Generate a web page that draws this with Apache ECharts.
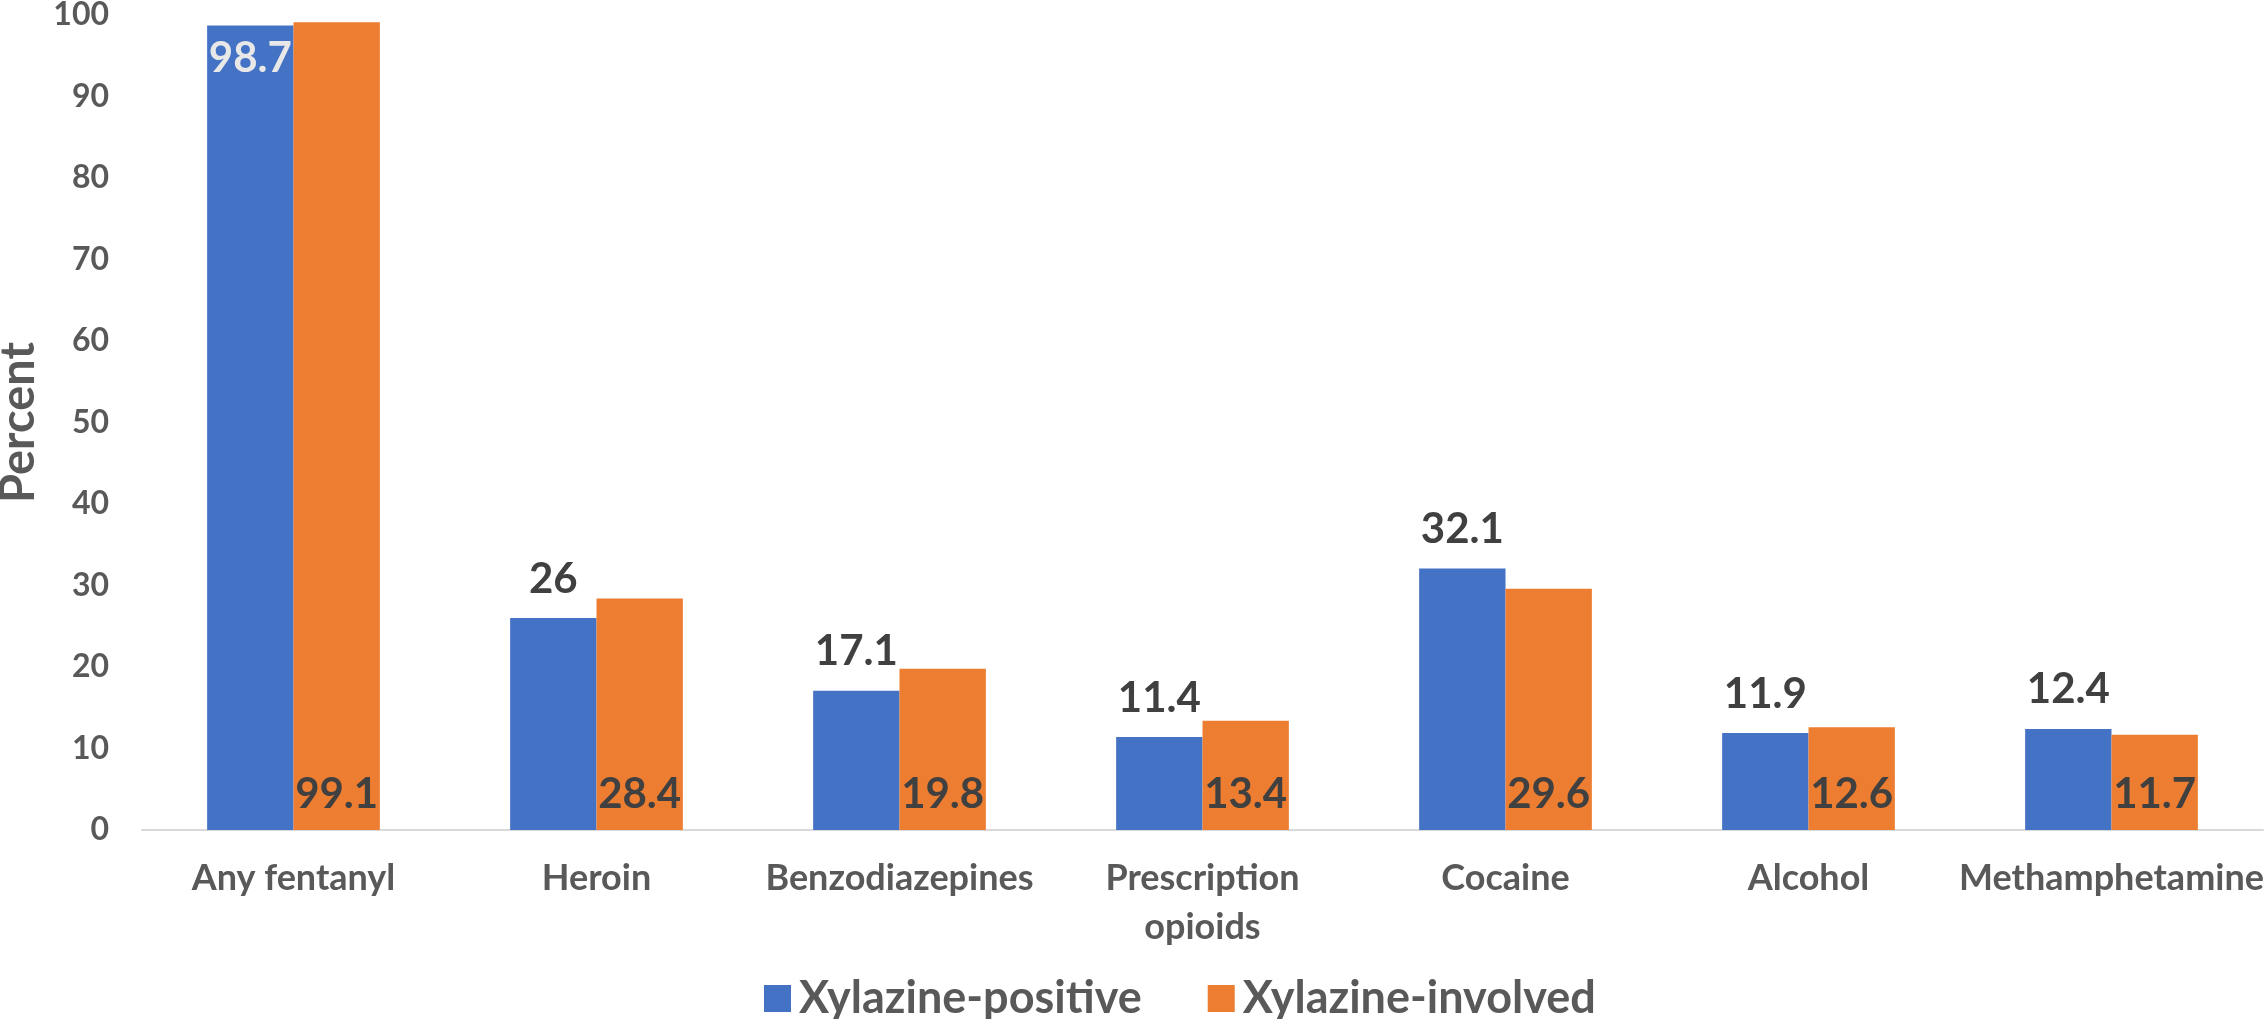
<!DOCTYPE html>
<html>
<head>
<meta charset="utf-8">
<script src="https://cdn.jsdelivr.net/npm/echarts@6/dist/echarts.min.js"></script>
<style>
	html, body { margin: 0; padding: 0; background: #fff; }
	#main { width: 2264px; height: 1019px; }
</style>
</head>
<body>
<div id="main"></div>
<script>
var categories = ['Any fentanyl', 'Heroin', 'Benzodiazepines', 'Prescription\nopioids', 'Cocaine', 'Alcohol', 'Methamphetamine']
var positive = [98.7, 26, 17.1, 11.4, 32.1, 11.9, 12.4]
var involved = [99.1, 28.4, 19.8, 13.4, 29.6, 12.6, 11.7]
var yTicks = [0, 100, 10] // min, max, step

var font = 'Lato'
var textGrey = '#595959'
var labelGrey = '#404040'

var myChart = echarts.init(document.getElementById('main'))

// first blue bar gets its label inside, in light grey
var positiveData = positive.map(function (v, i) {
	if (i === 0) {
		return { value: v, label: { position: 'insideTop', distance: 12, color: '#e8e8e8' } }
	}
	return v
})

var option = {
	animation: false,
	textStyle: { fontFamily: font },
	grid: { left: 142, right: 1, top: 15, bottom: 189, containLabel: false, outerBoundsMode: 'none' },
	legend: {
		data: ['Xylazine-positive', 'Xylazine-involved'],
		left: 759,
		top: 971,
		icon: 'rect',
		itemWidth: 27,
		itemHeight: 27,
		itemGap: 66,
		textStyle: { fontFamily: font, fontSize: 45, fontWeight: 'bold', color: textGrey, padding: [0, 0, 0, 3] }
	},
	xAxis: {
		type: 'category',
		data: categories,
		axisTick: { show: false },
		axisLine: { lineStyle: { color: '#d9d9d9', width: 2 } },
		axisLabel: {
			interval: 0,
			margin: 24,
			fontFamily: font,
			fontSize: 36,
			fontWeight: 'bold',
			color: textGrey,
			lineHeight: 49
		}
	},
	yAxis: {
		type: 'value',
		min: yTicks[0],
		max: yTicks[1],
		interval: yTicks[2],
		splitLine: { show: false },
		axisLine: { show: false },
		axisTick: { show: false },
		axisLabel: { margin: 33, fontFamily: font, fontSize: 32, fontWeight: 'bold', color: textGrey },
		name: 'Percent',
		nameLocation: 'middle',
		nameRotate: 90,
		nameGap: 100,
		nameTextStyle: { fontFamily: font, fontSize: 47, fontWeight: 'bold', color: textGrey }
	},
	series: [
		{
			name: 'Xylazine-positive',
			type: 'bar',
			data: positiveData,
			barGap: '0%',
			barCategoryGap: '43%',
			itemStyle: { color: '#4472C4' },
			label: {
				show: true,
				position: 'top',
				distance: 18,
				fontFamily: font,
				fontSize: 42,
				fontWeight: 'bold',
				color: labelGrey
			}
		},
		{
			name: 'Xylazine-involved',
			type: 'bar',
			data: involved,
			itemStyle: { color: '#ED7D31' },
			label: {
				show: true,
				position: 'insideBottom',
				distance: 15,
				fontFamily: font,
				fontSize: 42,
				fontWeight: 'bold',
				color: labelGrey
			}
		}
	]
}
myChart.setOption(option)
</script>
</body>
</html>
